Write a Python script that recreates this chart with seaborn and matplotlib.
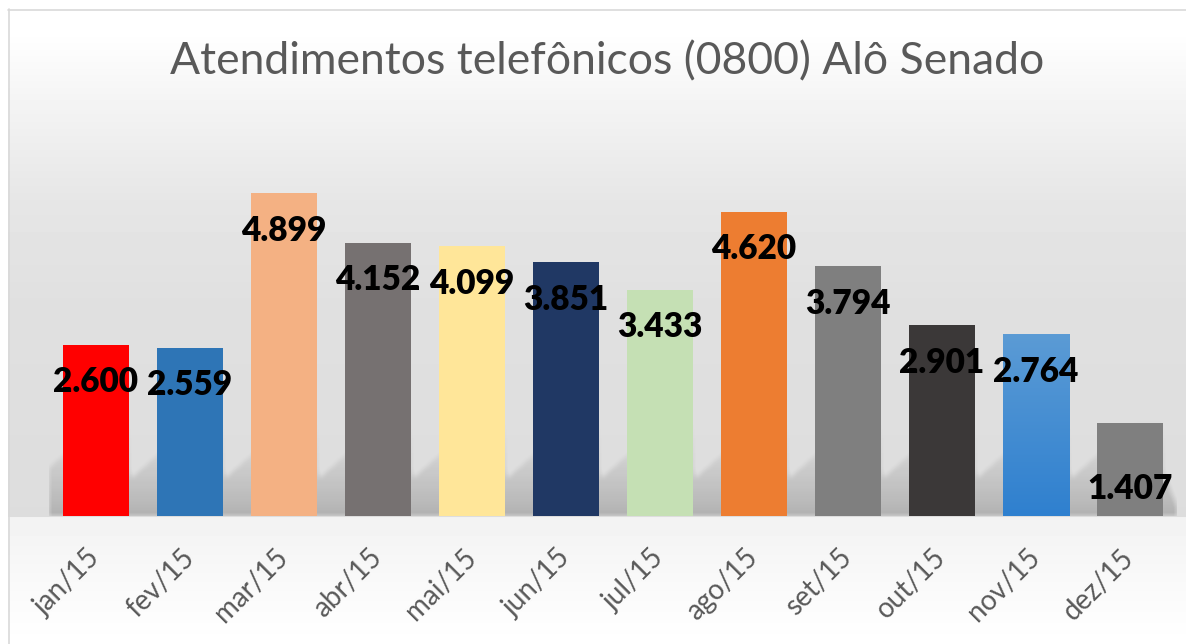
import numpy as np
import matplotlib.pyplot as plt
import seaborn as sns
from matplotlib.colors import to_rgb

meses = ["jan/15", "fev/15", "mar/15", "abr/15", "mai/15", "jun/15",
         "jul/15", "ago/15", "set/15", "out/15", "nov/15", "dez/15"]
atendimentos = [2600, 2559, 4899, 4152, 4099, 3851, 3433, 4620, 3794, 2901, 2764, 1407]
cores = ["#FF0000", "#2E75B6", "#F4B183", "#767171", "#FFE699", "#203864",
         "#C5E0B4", "#ED7D31", "#7F7F7F", "#3B3838", "#4A8FD6", "#7F7F7F"]
titulo = "Atendimentos telefônicos (0800) Alô Senado"

W, H = 1186, 644
sns.set_theme(style="white")
plt.rcParams["font.family"] = ["Lato", "DejaVu Sans"]

fig = plt.figure(figsize=(W / 100, H / 100), dpi=100)

# fundo em degradê + moldura
bg = fig.add_axes([0, 0, 1, 1], zorder=-10)
stops = [0, 30, 100, 200, 300, 516, 517, 600, 644]
tons = [255, 255, 244, 230, 224, 221, 242, 251, 255]
g = np.interp(np.arange(H), stops, tons) / 255
img = np.repeat(g[:, None], W, axis=1)
img[:9, :] = 1
img[:, :8] = 1
bg.imshow(img, cmap="gray", vmin=0, vmax=1, aspect="auto", extent=[0, W, H, 0])
bg.plot([8, W], [9.5, 9.5], color="#D9D9D9", lw=1.2)
bg.plot([8.5, 8.5], [9, H], color="#D9D9D9", lw=1.2)
bg.set_xlim(0, W)
bg.set_ylim(H, 0)
bg.axis("off")

ax = fig.add_axes([49 / W, 128 / H, 1128 / W, 395 / H])
ax.set_facecolor("none")

sns.barplot(x=meses, y=atendimentos, hue=meses, palette=cores, legend=False,
            width=0.71, saturation=1, linewidth=0, ax=ax)
for p in ax.patches:
    p.set_zorder(3)

ymax = 6000
px_x = 1 / 94
px_y = ymax / 395

# sombra em perspectiva atrás das barras
nx, ny = 1128, 110
xs = -0.5 + (np.arange(nx) + 0.5) / nx * 12
yp = np.arange(ny) + 0.5
XX, YY = np.meshgrid(xs, yp)
sombra = np.zeros_like(XX)
for i, v in enumerate(atendimentos):
    x0, x1 = i - 0.355, i + 0.355
    esq = x0 + (-67 + YY / 0.9) * px_x
    dir_ = x1 + np.clip(17 * (1 - YY / 45), 0, None) * px_x
    a = 0.2 * np.clip(1 - YY / 100, 0, None) ** 1.3
    a = np.where((XX >= esq) & (XX <= dir_), a, 0)
    sombra = np.maximum(sombra, a)
k = np.ones(7) / 7
sombra = np.array([np.convolve(r, k, mode="same") for r in sombra])
sombra = np.array([np.convolve(c, k, mode="same") for c in sombra.T]).T
rgba = np.zeros((ny, nx, 4))
rgba[..., 3] = sombra
ax.imshow(rgba, extent=[-0.5, 11.5, 0, ny * px_y], origin="lower",
          aspect="auto", zorder=1)

# degradê na barra de novembro
for p in ax.patches:
    if abs(p.get_x() + p.get_width() / 2 - 10) < 0.1:
        c1, c2 = np.array(to_rgb("#5B9BD5")), np.array(to_rgb("#2F80CF"))
        t = np.linspace(0, 1, 100)[:, None]
        grad = (c1 * (1 - t) + c2 * t)[:, None, :]
        im = ax.imshow(grad, extent=[p.get_x(), p.get_x() + p.get_width(), 0, p.get_height()],
                       aspect="auto", zorder=4, origin="upper")
        im.set_clip_path(p)

for i, v in enumerate(atendimentos):
    rot = f"{v:,}".replace(",", ".")
    dy = -47 if i == len(atendimentos) - 1 else -27
    ax.annotate(rot, (i, v), xytext=(0, dy), textcoords="offset points",
                ha="center", va="center", fontsize=24, fontweight="heavy",
                color="black", zorder=6)

ax.set_xlim(-0.5, 11.5)
ax.set_ylim(0, ymax)
ax.set_yticks([])
ax.set_xlabel("")
ax.set_ylabel("")
sns.despine(ax=ax, left=True, bottom=True)
ax.tick_params(axis="x", length=0, pad=27, labelsize=20, labelcolor="#595959")
plt.setp(ax.get_xticklabels(), rotation=45, ha="right", va="center",
         rotation_mode="anchor")

fig.text(607 / W, 1 - 62 / H, titulo, ha="center", va="center",
         fontsize=32, color="#595959")

fig.savefig("out.png", dpi=100)
